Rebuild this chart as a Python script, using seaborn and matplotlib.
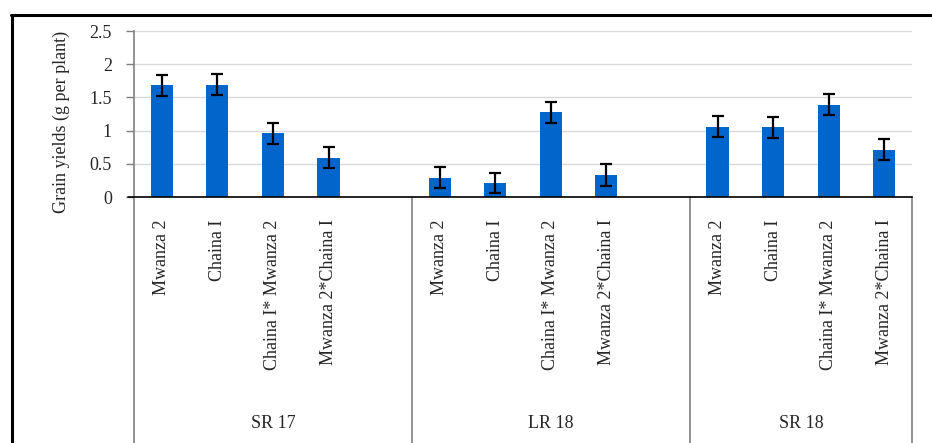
import matplotlib
matplotlib.use("Agg")
import matplotlib.pyplot as plt
from matplotlib.lines import Line2D
import matplotlib.transforms as mtransforms
import seaborn as sns
import pandas as pd

# ---- data ----
seasons = ["SR 17", "LR 18", "SR 18"]
cultivars = ["Mwanza 2", "Chaina I", "Chaina I* Mwanza 2", "Mwanza 2*Chaina I"]
yield_sr17 = [1.68, 1.69, 0.96, 0.59]
yield_lr18 = [0.29, 0.21, 1.275, 0.33]
yield_sr18 = [1.06, 1.05, 1.39, 0.71]
err_sr17 = [0.16, 0.16, 0.16, 0.16]
err_lr18 = [0.16, 0.15, 0.16, 0.16]
err_sr18 = [0.16, 0.16, 0.16, 0.16]
y_ticks = [0, 0.5, 1, 1.5, 2, 2.5]
y_label = "Grain yields (g per plant)"

values = [yield_sr17, yield_lr18, yield_sr18]
errors = [err_sr17, err_lr18, err_sr18]

rows = []
order = []
tick_labels = []
for si, s in enumerate(seasons):
    for ci, c in enumerate(cultivars):
        key = f"{s}|{c}"
        rows.append({"slot": key, "season": s, "cultivar": c,
                     "yield": values[si][ci], "err": errors[si][ci]})
        order.append(key)
        tick_labels.append(c)
    if si < len(seasons) - 1:
        order.append(f"{s}|gap")
        tick_labels.append("")
df = pd.DataFrame(rows)

# ---- style ----
sns.set_style("white")
plt.rcParams["font.family"] = ["Liberation Serif", "DejaVu Serif"]
plt.rcParams["font.size"] = 13

fig = plt.figure(figsize=(9.32, 4.43), dpi=100)
ax = fig.add_axes([134 / 932, 1 - 197 / 443, (912 - 134) / 932, (197 - 31) / 443])

sns.barplot(data=df, x="slot", y="yield", order=order, color="#0066CC",
            width=0.4, errorbar=None, saturation=1, edgecolor="none", ax=ax, zorder=2)

# error bars at the categorical positions
pos = {k: i for i, k in enumerate(order)}
xs = [pos[k] for k in df["slot"]]
ax.errorbar(xs, df["yield"], yerr=df["err"], fmt="none", ecolor="black",
            elinewidth=1.6, capsize=4.3, capthick=1.6, zorder=3)

ax.set_xlim(-0.5, len(order) - 0.5)
ax.set_ylim(0, 2.5)
ax.set_yticks(y_ticks)
ax.set_yticklabels([f"{t:g}" for t in y_ticks])
ax.yaxis.grid(True, color="#D9D9D9", linewidth=1.0, zorder=0)
ax.set_axisbelow(True)

ax.set_xticks(range(len(order)))
ax.set_xticklabels(tick_labels, rotation=90, va="top", ha="center")
ax.tick_params(axis="x", length=0, pad=16)
ax.tick_params(axis="y", length=6, width=1, color="#808080", pad=10, left=True)
ax.set_xlabel("")
ax.set_ylabel(y_label)
ax.yaxis.set_label_coords(-0.082, 0.45)

for side in ["top", "right"]:
    ax.spines[side].set_visible(False)
ax.spines["left"].set_color("#808080")
ax.spines["left"].set_linewidth(1.2)
ax.spines["bottom"].set_color("black")
ax.spines["bottom"].set_linewidth(1.2)

# multi-level category dividers and group labels
trans = mtransforms.blended_transform_factory(ax.transData, ax.transAxes)
bottom_ax = -(443 - 197) / 166
group_bounds = [-0.5, 4.5, 9.5, len(order) - 0.5]
for b in group_bounds:
    ax.add_line(Line2D([b, b], [0, bottom_ax], transform=trans, color="#808080",
                       linewidth=1.2, clip_on=False))
# short extension of x axis to the left
ax.add_line(Line2D([-0.5 - 6 / 55.57, -0.5], [0, 0], transform=trans, color="black",
                   linewidth=1.2, clip_on=False))
for gi, s in enumerate(seasons):
    cx = (group_bounds[gi] + group_bounds[gi + 1]) / 2
    ax.text(cx, -(423 - 197) / 166, s, transform=trans, ha="center", va="center")

# outer frame (top and left border lines)
fig.add_artist(Line2D([11 / 932, 1], [1 - 14.5 / 443, 1 - 14.5 / 443],
                      transform=fig.transFigure, color="black", linewidth=2.2))
fig.add_artist(Line2D([11.5 / 932, 11.5 / 932], [0, 1 - 14.5 / 443],
                      transform=fig.transFigure, color="black", linewidth=2.2))

fig.savefig("out.png", dpi=100)
